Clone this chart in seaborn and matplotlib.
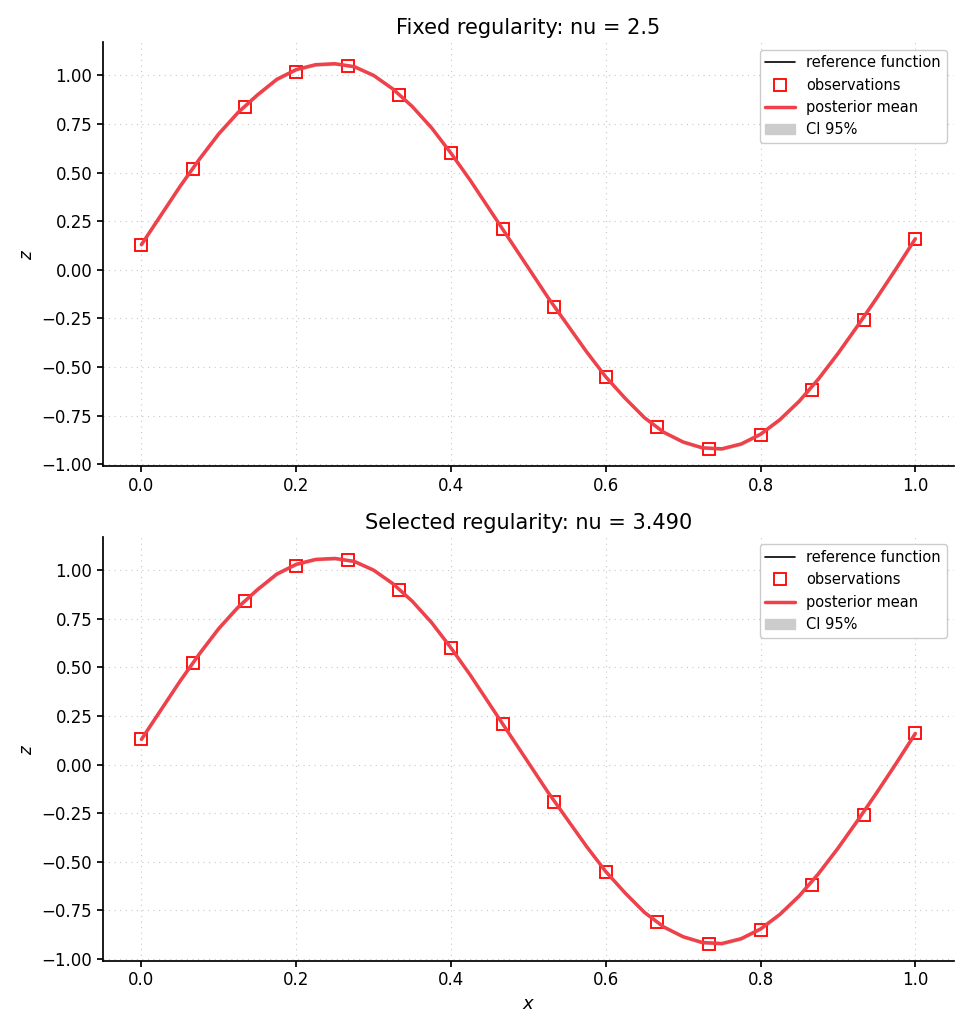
import numpy as np
import matplotlib
matplotlib.use("Agg")
import matplotlib.pyplot as plt
import seaborn as sns
import pandas as pd

# observations
x_obs = [0.0, 0.0667, 0.1333, 0.2, 0.2667, 0.3333, 0.4, 0.4667,
         0.5333, 0.6, 0.6667, 0.7333, 0.8, 0.8667, 0.9333, 1.0]
z_obs = [0.13, 0.52, 0.84, 1.02, 1.05, 0.90, 0.60, 0.21,
         -0.19, -0.55, -0.81, -0.92, -0.85, -0.62, -0.26, 0.16]

# posterior mean / reference function
x_grid = [0.0, 0.025, 0.05, 0.075, 0.1, 0.125, 0.15, 0.175, 0.2, 0.225,
          0.25, 0.275, 0.3, 0.325, 0.35, 0.375, 0.4, 0.425, 0.45, 0.475,
          0.5, 0.525, 0.55, 0.575, 0.6, 0.625, 0.65, 0.675, 0.7, 0.725,
          0.75, 0.775, 0.8, 0.825, 0.85, 0.875, 0.9, 0.925, 0.95, 0.975, 1.0]
z_mean = [0.13, 0.28, 0.43, 0.57, 0.70, 0.81, 0.90, 0.98, 1.03, 1.055,
          1.06, 1.045, 1.00, 0.93, 0.84, 0.73, 0.60, 0.46, 0.31, 0.16,
          0.01, -0.14, -0.28, -0.42, -0.55, -0.66, -0.76, -0.835, -0.885, -0.915,
          -0.92, -0.895, -0.845, -0.77, -0.675, -0.56, -0.43, -0.29, -0.145, 0.005, 0.16]
ci_half = 0.005

titles = ["Fixed regularity: nu = 2.5", "Selected regularity: nu = 3.490"]

sns.set_theme(style="ticks", rc={'text.color': 'black', 'axes.labelcolor': 'black',
                                 'xtick.color': 'black', 'ytick.color': 'black',
                                 'axes.edgecolor': 'black'})
plt.rcParams['font.family'] = ['DejaVu Sans']

fig, axes = plt.subplots(2, 1, figsize=(9.72, 10.31), dpi=100)
df_mean = pd.DataFrame({'x': x_grid, 'z': z_mean})

for i, ax in enumerate(axes):
    ax.plot(x_grid, z_mean, color='black', lw=1.2, label='reference function')
    ax.plot(x_obs, z_obs, 's', mfc='none', mec='red', ms=8, mew=1.3,
            label='observations')
    sns.lineplot(data=df_mean, x='x', y='z', ax=ax, color='#f0404a', lw=2.5,
                 label='posterior mean')
    lo = np.array(z_mean) - ci_half
    hi = np.array(z_mean) + ci_half
    ax.fill_between(x_grid, lo, hi, color='#cccccc', label='CI 95%')
    ax.set_xlim(-0.05, 1.05)
    ax.set_ylim(-1.01, 1.17)
    ax.set_yticks(np.arange(-1.0, 1.01, 0.25))
    ax.grid(True, ls=(0, (1, 4)), color='#c8c8c8', lw=0.8)
    sns.despine(ax=ax)
    ax.tick_params(labelsize=12, length=4)
    ax.set_title(titles[i], fontsize=15)
    ax.set_ylabel('$z$', fontsize=12)
    ax.set_xlabel('$x$' if i == 1 else '', fontsize=13)
    ax.legend(loc='upper right', fontsize=10.5, framealpha=1)

plt.tight_layout()
plt.savefig('out.png', dpi=100)
